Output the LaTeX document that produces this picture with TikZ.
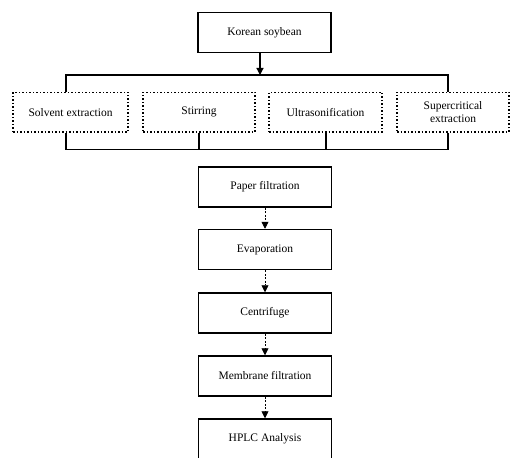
\documentclass[tikz,border=0pt]{standalone}
\usepackage{fontspec}
\setmainfont{Liberation Serif}
\usetikzlibrary{arrows.meta}
\begin{document}
\begin{tikzpicture}[x=1pt,y=-1pt]
\tikzstyle{etape}=[draw, line width=1.5pt, minimum width=133pt, minimum height=40pt, inner sep=0pt, font=\fontsize{11.5}{13}\selectfont]
\tikzstyle{methode}=[draw, dotted, line width=1.5pt, minimum height=39.5pt, inner sep=0pt, align=center, font=\fontsize{11.5}{13}\selectfont]
\tikzstyle{trait}=[line width=1.5pt]
\tikzstyle{fleche}=[line width=0.7pt, dash pattern=on 2pt off 1.5pt, -{Triangle[length=7pt,width=7pt]}]
\clip (0,0) rectangle (510,457);
% produit de depart
\node[etape] (soja) at (264.5,32.5) {Korean soybean};
% les quatre methodes
\node[methode, minimum width=115pt] (solvant) at (70.5,112.25) {Solvent extraction};
\node[methode, minimum width=112pt] (agitation) at (199,112.25) {Stirring};
\node[methode, minimum width=113pt] (ultrason) at (325.5,112.25) {Ultrasonification};
\node[methode, minimum width=112pt] (supercrit) at (453,112.25) {Supercritical\\extraction};
\coordinate (hg) at (66,75);
\coordinate (hd) at (448,75);
\coordinate (bg) at (66,149.5);
\coordinate (bd) at (448,149.5);
\draw[line width=1.2pt, -{Triangle[length=7pt,width=7pt]}] ([xshift=-4.5pt]soja.south) -- ([xshift=-4.5pt]soja.south |- hg);
\draw[trait] (hg |- solvant.north) -- (hg) -- (hd) -- (hd |- supercrit.north);
\draw[trait] (bg |- solvant.south) -- (bg) -- (bd) -- (bd |- supercrit.south);
\draw[trait] (agitation.south) -- (agitation.south |- bg);
\draw[trait] ([xshift=0.5pt]ultrason.south) -- ([xshift=0.5pt]ultrason.south |- bg);
% suite du traitement
\node[etape] (papier) at (265,187) {Paper filtration};
\node[etape] (evap) at (265,249.5) {Evaporation};
\node[etape] (centri) at (265,313) {Centrifuge};
\node[etape] (membrane) at (265,376) {Membrane filtration};
\node[etape] (hplc) at (265,439) {HPLC Analysis};
\draw[fleche] (papier) -- (evap);
\draw[fleche] (evap) -- (centri);
\draw[fleche] (centri) -- (membrane);
\draw[fleche] (membrane) -- (hplc);
\end{tikzpicture}
\end{document}
